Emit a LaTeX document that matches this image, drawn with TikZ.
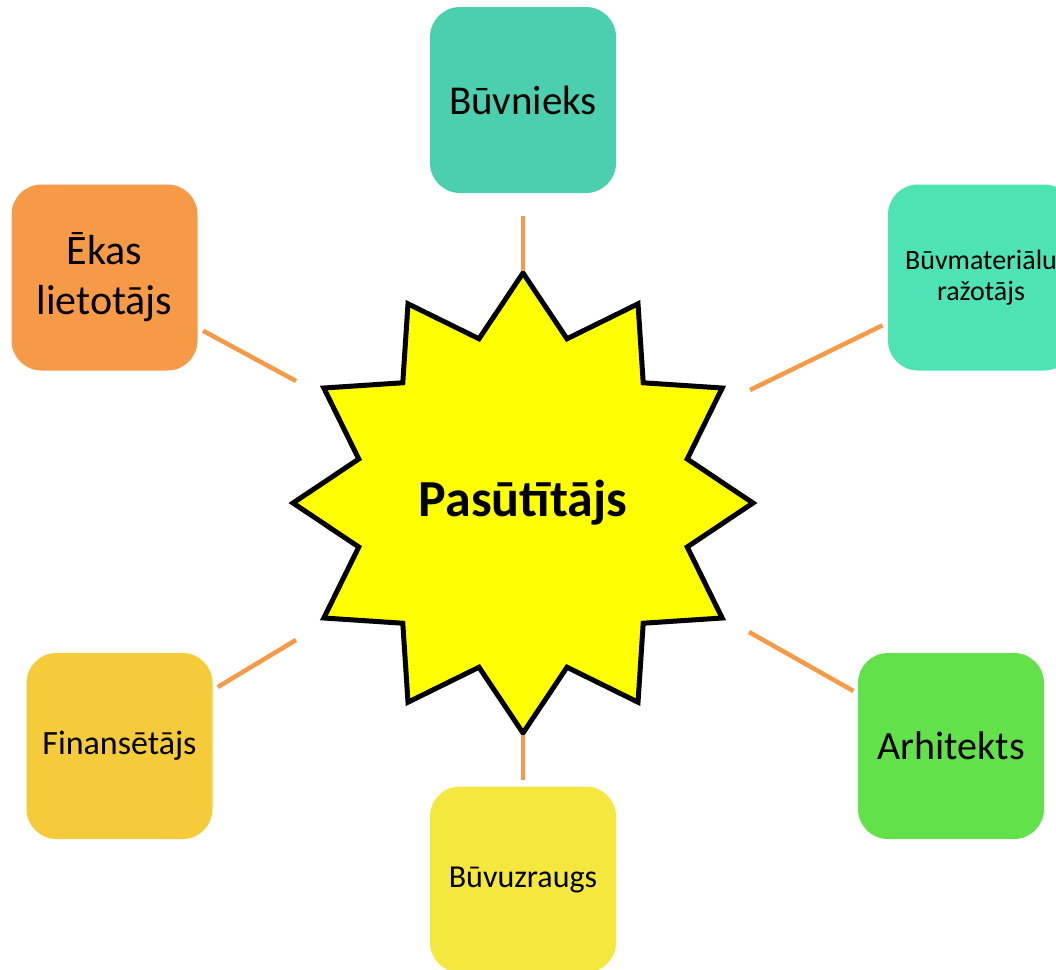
\documentclass[tikz,border=0pt]{standalone}
\usepackage{fontspec}
\setmainfont{Carlito}
\usetikzlibrary{shapes.geometric}
\definecolor{cBuvn}{RGB}{75,207,175}
\definecolor{cEkas}{RGB}{247,154,72}
\definecolor{cBmat}{RGB}{77,227,181}
\definecolor{cFin}{RGB}{245,203,58}
\definecolor{cArh}{RGB}{98,225,74}
\definecolor{cBuz}{RGB}{244,232,62}
\definecolor{cLink}{RGB}{247,154,72}
\definecolor{cSun}{RGB}{255,255,0}
\tikzset{
  rolebox/.style={rounded corners=30pt, minimum width=186pt, minimum height=186pt, inner sep=0pt, align=center, text=black},
  link/.style={draw=cLink, line width=4.5pt},
  sun/.style={star, star points=12, star point ratio=1.353, minimum size=460pt, inner sep=0pt,
    draw=black, line width=5pt, fill=cSun, line join=miter},
}
\begin{document}
\begin{tikzpicture}[x=1pt,y=-1pt]
\useasboundingbox (0,0) rectangle (1056,969);
% central star
\node[sun] (pas) at (523,503) {};
\node[font=\bfseries\fontsize{52}{60}\selectfont] (pastext) at (523,503) {Pasūtītājs};
% boxes
\node[rolebox, fill=cBuvn, font=\fontsize{41}{49}\selectfont] (buvn) at (523,100) {Būvnieks};
\node[rolebox, fill=cEkas, font=\fontsize{42}{50}\selectfont] (ekas) at (104.5,277.5) {Ēkas\\lietotājs};
\node[rolebox, fill=cBmat, font=\fontsize{28}{31}\selectfont] (bmat) at (981,277.5) {Būvmateriālu\\ražotājs};
\node[rolebox, fill=cFin, font=\fontsize{34}{40}\selectfont] (fin) at (119.5,746) {Finansētājs};
\node[rolebox, fill=cArh, font=\fontsize{40}{48}\selectfont] (arh) at (951,746) {Arhitekts};
\node[rolebox, fill=cBuz, font=\fontsize{32}{38}\selectfont] (buz) at (523,879.5) {Būvuzraugs};
% star-side ends
\coordinate (e1) at (523,271);
\coordinate (e2) at (296,381);
\coordinate (e3) at (750,390);
\coordinate (e4) at (296,640);
\coordinate (e5) at (749,632);
\coordinate (e6) at (523,735);
% connectors
\draw[link, shorten <=23pt] (buvn) -- (e1);
\draw[link, shorten <=6pt] (ekas) -- (e2);
\draw[link, shorten <=6pt] (bmat) -- (e3);
\draw[link, shorten <=6pt] (fin) -- (e4);
\draw[link, shorten <=5pt] (arh) -- (e5);
\draw[link, shorten <=6pt] (buz) -- (e6);
\end{tikzpicture}
\end{document}
